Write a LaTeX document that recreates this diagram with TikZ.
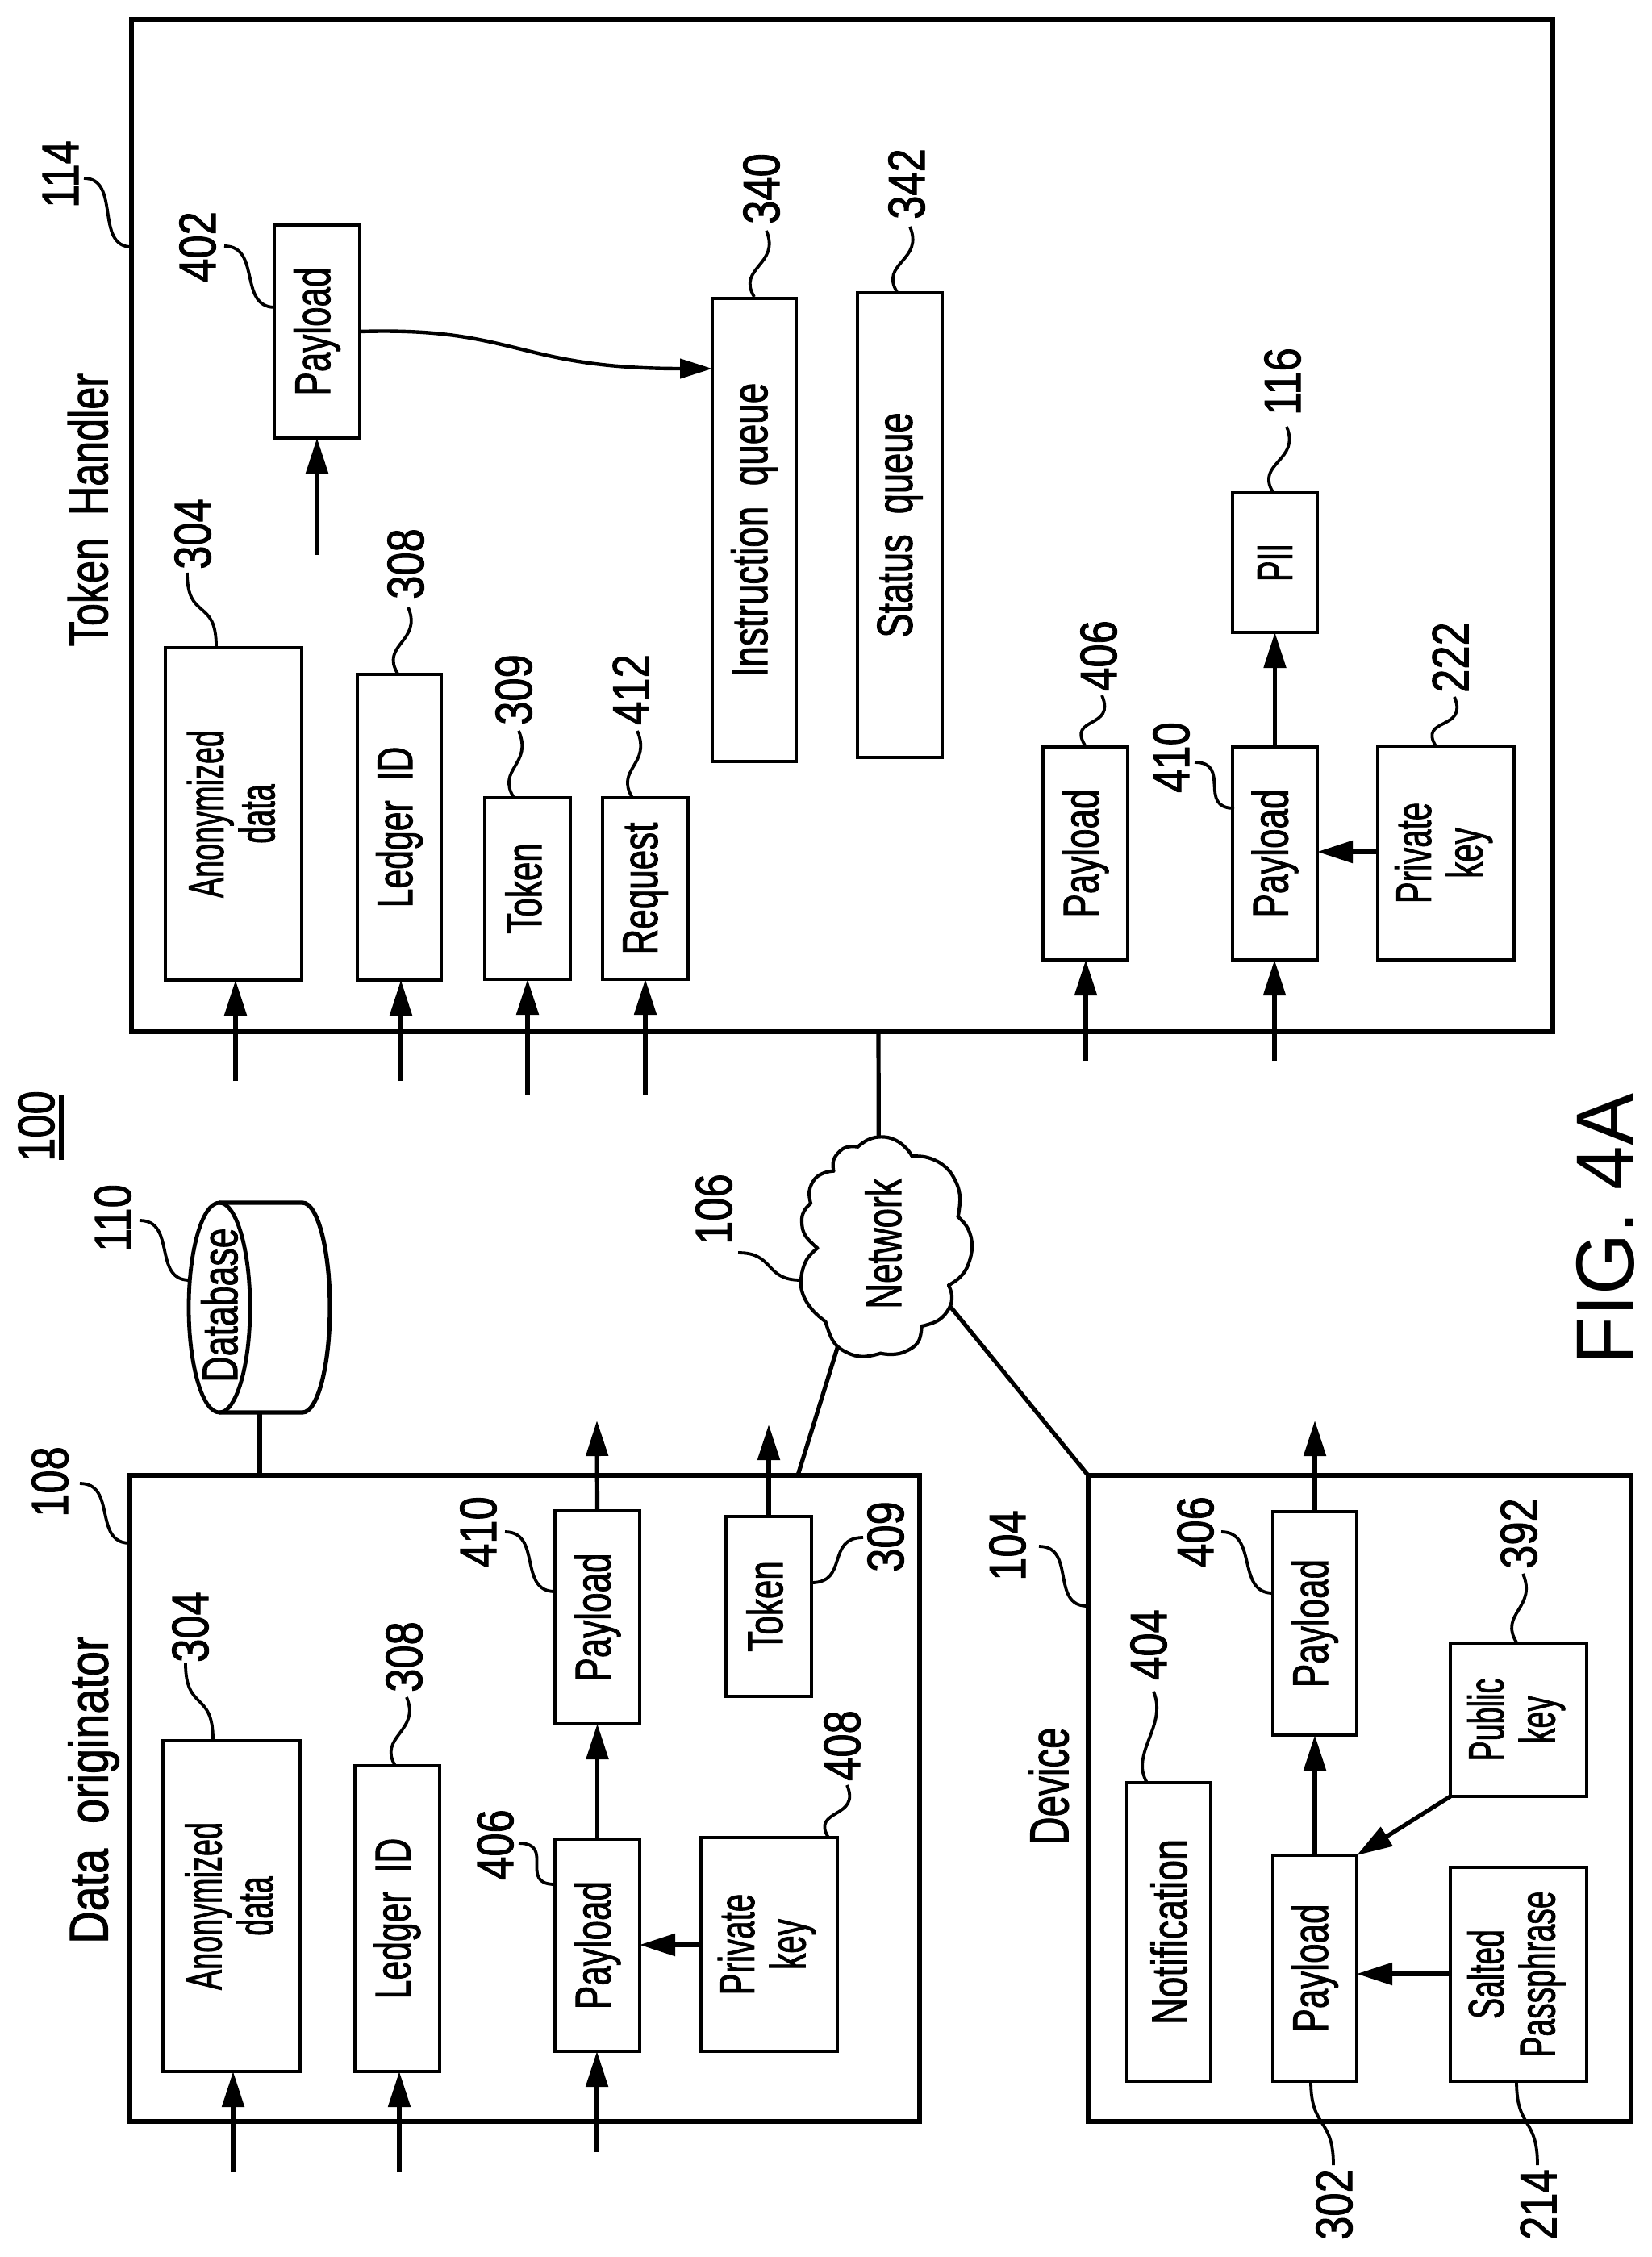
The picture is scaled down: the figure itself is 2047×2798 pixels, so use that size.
\documentclass[tikz,border=0pt]{standalone}
\usepackage{fontspec}
\usepackage{graphicx}
\setmainfont{Liberation Sans}
\newfontfamily\hv[FakeBold=1.6]{Liberation Sans}
\usetikzlibrary{arrows.meta}
\newcommand\vtxt[2]{\rotatebox{90}{\scalebox{#1}[1]{#2}}}
\newcommand\vtwo[3]{\rotatebox{90}{\scalebox{#1}[1]{\begin{tabular}{@{}c@{}}#2\\#3\end{tabular}}}}
% box: name x1 y1 x2 y2 content
\newcommand\bx[6]{\node[ibox,minimum width={(#4-#2)*0.5pt},minimum height={(#5-#3)*0.5pt}] (#1) at ({(#2+#4)/2},{-(#3+#5)/2}) {#6};}
\newcommand\obx[5]{\node[obox,minimum width={(#4-#2)*0.5pt},minimum height={(#5-#3)*0.5pt}] (#1) at ({(#2+#4)/2},{-(#3+#5)/2}) {};}
\newcommand\num[4]{\node[numtxt] (#1) at (#2,-#3) {\vtxt{.82}{#4}};}
% leads: h = S leaving and arriving horizontally; v = S leaving and arriving vertically; w = tilde wiggle
\newcommand\leadh[5]{\coordinate (#1a) at (#2,-#3);\coordinate (#1b) at (#4,-#5);\draw[lead] (#1a) .. controls +(46,0) and +(-46,0) .. (#1b);}
\newcommand\leadv[5]{\coordinate (#1a) at (#2,-#3);\coordinate (#1b) at (#4,-#5);\draw[lead] (#1a) .. controls +(0,-60) and +(0,60) .. (#1b);}
\newcommand\leadw[5]{\coordinate (#1a) at (#2,-#3);\coordinate (#1b) at (#4,-#5);\draw[lead] (#1a) .. controls +(18,-42) and +(-22,36) .. (#1b);}
\newcommand\puff[1]{\draw[cloudline] plot[smooth,tension=.7] coordinates {#1};}
\tikzset{
  ibox/.style={draw,line width=2.4pt,inner sep=0pt,outer sep=0pt,font=\hv\fontsize{31}{31}\selectfont},
  obox/.style={draw,line width=2.75pt,inner sep=0pt,outer sep=0pt},
  numtxt/.style={inner sep=0pt,font=\hv\fontsize{32}{32}\selectfont},
  titletxt/.style={inner sep=0pt,font=\hv\fontsize{34}{34}\selectfont},
  figtxt/.style={inner sep=0pt,font=\fontsize{51}{51}\selectfont},
  nettxt/.style={inner sep=0pt,font=\hv\fontsize{31}{31}\selectfont},
  arr/.style={line width=2.6pt,-{Triangle[length=22pt,width=13.5pt]}},
  wire/.style={line width=2.6pt},
  lead/.style={line width=1.9pt},
  cloudline/.style={line width=2.1pt,line cap=round},
}
\begin{document}
\begin{tikzpicture}[x=0.5pt,y=0.5pt]
\useasboundingbox (0,0) rectangle (2047,-2798);
% outer boxes
\obx{th}{163}{24}{1925}{1279}
\obx{dn}{161}{1829}{1140}{2630}
\obx{dv}{1349}{1829}{2022}{2630}
% token handler
\bx{tpay}{340}{279}{446}{543}{\vtxt{.71}{Payload}}
\bx{tanon}{205}{803}{374}{1215}{\hspace{6pt}\vtwo{.61}{Anonymized}{data}}
\bx{tled}{443}{836}{547}{1215}{\vtxt{.69}{Ledger\ \ ID}}
\bx{ttok}{601}{989}{707}{1214}{\hspace*{-5pt}\vtxt{.68}{Token}}
\bx{treq}{747}{989}{853}{1214}{\vtxt{.71}{Request}}
\bx{tins}{883}{370}{987}{944}{\vtxt{.74}{Instruction\ \ queue}}
\bx{tsta}{1063}{363}{1168}{939}{\vtxt{.73}{Status\ \ queue}}
\bx{tp406}{1293}{926}{1398}{1190}{\vtxt{.71}{Payload}}
\bx{tp410}{1528}{926}{1633}{1190}{\vtxt{.71}{Payload}}
\bx{tpii}{1528}{611}{1633}{784}{\vtxt{.62}{PII}}
\bx{tpriv}{1708}{925}{1877}{1190}{\vtwo{.65}{Private}{key}}
% data originator
\bx{danon}{202}{2158}{372}{2568}{\hspace{6pt}\vtwo{.61}{Anonymized}{data}}
\bx{dled}{440}{2189}{545}{2568}{\vtxt{.69}{Ledger\ \ ID}}
\bx{dp410}{688}{1873}{793}{2137}{\vtxt{.71}{Payload}}
\bx{dp406}{688}{2280}{793}{2543}{\vtxt{.71}{Payload}}
\bx{dtok}{900}{1880}{1006}{2103}{\hspace*{-5pt}\vtxt{.68}{Token}}
\bx{dpriv}{869}{2278}{1038}{2543}{\vtwo{.65}{Private}{key}}
% device
\bx{vnot}{1397}{2210}{1501}{2580}{\vtxt{.75}{Notification}}
\bx{vp406}{1578}{1874}{1682}{2151}{\vtxt{.71}{Payload}}
\bx{vp302}{1578}{2300}{1682}{2580}{\vtxt{.71}{Payload}}
\bx{vpub}{1798}{2037}{1967}{2227}{\vtwo{.61}{Public}{key}}
\bx{vsal}{1798}{2315}{1967}{2580}{\vtwo{.63}{Salted}{Passphrase}}
% titles
\node[titletxt] (t1) at (109,-632) {\vtxt{.74}{Token\ \ Handler}};
\node[titletxt] (t2) at (116,-2219) {\vtxt{.82}{Data\ \ originator}};
\node[titletxt] (t3) at (1300,-2214) {\vtxt{.70}{Device}};
\node[figtxt] (fig) at (1990,-1524) {\vtxt{.96}{FIG. 4A}};
% system label
\node[numtxt] (sys) at (45,-1396) {\vtxt{.82}{100}};
\coordinate (sysa) at (76,-1357);\coordinate (sysb) at (76,-1438);
\draw[wire] (sysa) -- (sysb);
% database
\node[nettxt] (db) at (272,-1618) {\vtxt{.72}{Database}};
\draw[line width=2.6pt] (272,-1491) -- (375,-1491) arc[start angle=90,end angle=-90,x radius=34,y radius=130] -- (272,-1751);
\draw[line width=2.4pt] (272,-1621) ellipse[x radius=38,y radius=130];
\coordinate (dbbot) at (322,-1751);
\draw[wire] (dbbot) -- (dbbot |- dn.north);
% cloud
\node[nettxt] (net) at (1095,-1542) {\vtxt{.71}{Network}};
\begin{scope}[shift={(960,-1380)},x=0.16667pt,y=-0.16667pt]
\puff{(310,125)(350,98)(400,88)(450,100)(490,130)(512,160)}
\puff{(512,160)(570,165)(630,195)(670,245)(690,310)(683,385)}
\puff{(683,385)(720,430)(735,495)(720,565)(690,610)(648,640)}
\puff{(648,640)(660,680)(650,725)(610,770)(548,792)}
\puff{(548,792)(535,850)(490,885)(440,897)(395,893)}
\puff{(395,893)(330,905)(270,890)(220,850)(190,775)}
\puff{(190,775)(140,730)(105,670)(100,610)(120,545)(160,502)}
\puff{(160,502)(115,455)(102,405)(110,365)(135,335)}
\puff{(135,335)(130,290)(150,245)(185,222)(220,215)}
\puff{(220,215)(220,175)(245,140)(275,125)(310,125)}
\coordinate (cloudtop) at (388,85);
\coordinate (cloudleft) at (235,870);
\coordinate (cloudright) at (655,720);
\end{scope}
\coordinate (thport) at (1089,-1279);
\coordinate (dnport) at (989,-1829);
\coordinate (dvport) at (1349,-1829);
\draw[wire] (thport) -- (cloudtop);
\draw[wire] (dnport) -- (cloudleft);
\draw[wire] (dvport) -- (cloudright);
% token handler arrows
\coordinate (i1) at (292,-1340);\draw[arr] (i1) -- (i1 |- tanon.south);
\coordinate (i2) at (497,-1340);\draw[arr] (i2) -- (i2 |- tled.south);
\coordinate (i3) at (654,-1357);\draw[arr] (i3) -- (i3 |- ttok.south);
\coordinate (i4) at (800,-1357);\draw[arr] (i4) -- (i4 |- treq.south);
\coordinate (i5) at (393,-688);\draw[arr] (i5) -- (i5 |- tpay.south);
\coordinate (i6) at (1346,-1315);\draw[arr] (i6) -- (i6 |- tp406.south);
\coordinate (i7) at (1580,-1315);\draw[arr] (i7) -- (i7 |- tp410.south);
\draw[arr] (tp410.north) -- (tpii.south);
\draw[arr] (tpriv.west |- 0,-1056) -- (tp410.east |- 0,-1056);
\coordinate (c1) at (446,-411);\coordinate (c2) at (883,-457);
\draw[line width=2.2pt,-{Triangle[length=20pt,width=12pt]}] (c1) .. controls (640,-405) and (640,-457) .. (c2);
% data originator arrows
\coordinate (j1) at (289,-2693);\draw[arr] (j1) -- (j1 |- danon.south);
\coordinate (j2) at (495,-2693);\draw[arr] (j2) -- (j2 |- dled.south);
\coordinate (j3) at (740,-2668);\draw[arr] (j3) -- (j3 |- dp406.south);
\draw[arr] (dp406.north) -- (dp410.south);
\coordinate (j4) at (740,-1761);\draw[arr] (dp410.north) -- (j4);
\coordinate (j5) at (953,-1766);\draw[arr] (dtok.north) -- (j5);
\draw[arr] (dpriv.west |- 0,-2411) -- (dp406.east |- 0,-2411);
% device arrows
\draw[arr] (vp302.north) -- (vp406.south);
\coordinate (k1) at (1630,-1761);\draw[arr] (vp406.north) -- (k1);
\draw[arr] (vsal.west |- 0,-2447) -- (vp302.east |- 0,-2447);
\draw[arr] (vpub.south west) -- (vp302.north east);
% numbers and leads
\num{n114}{75}{216}{114}\leadh{l114}{104}{221}{163}{306}
\num{n402}{245}{306}{402}\leadh{l402}{278}{305}{341}{381}
\num{n304}{239}{662}{304}\leadv{l304}{232}{710}{268}{801}
\num{n308}{503}{699}{308}\leadw{l308}{506}{753}{493}{835}
\num{n309}{637}{855}{309}\leadw{l309}{643}{906}{637}{989}
\num{n412}{782}{855}{412}\leadw{l412}{790}{906}{784}{989}
\num{n340}{944}{234}{340}\leadw{l340}{950}{286}{935}{368}
\num{n342}{1124}{228}{342}\leadw{l342}{1128}{281}{1112}{362}
\num{n406a}{1362}{813}{406}\leadw{l406a}{1366}{862}{1345}{924}
\num{n410a}{1452}{939}{410}\leadh{l410a}{1481}{945}{1530}{1002}
\num{n116}{1590}{473}{116}\leadw{l116}{1595}{529}{1578}{610}
\num{n222}{1798}{815}{222}\leadw{l222}{1803}{864}{1780}{925}
\num{n304b}{236}{2017}{304}\leadv{l304b}{230}{2062}{264}{2156}
\num{n308b}{501}{2054}{308}\leadw{l308b}{504}{2104}{490}{2189}
\num{n110}{140}{1510}{110}\leadh{l110}{173}{1513}{235}{1587}
\num{n108}{62}{1837}{108}\leadh{l108}{99}{1839}{161}{1913}
\num{n106}{885}{1499}{106}\leadh{l106}{915}{1553}{993}{1587}
\num{n410b}{593}{1899}{410}\leadh{l410b}{626}{1899}{688}{1973}
\num{n406b}{614}{2287}{406}\leadh{l406b}{643}{2285}{688}{2336}
\num{n309b}{1098}{1905}{309}\leadh{l309b}{1006}{1962}{1070}{1906}
\num{n408}{1044}{2164}{408}\leadw{l408}{1050}{2213}{1027}{2278}
\num{n104}{1249}{1916}{104}\leadh{l104}{1288}{1917}{1348}{1991}
\num{n406c}{1482}{1899}{406}\leadh{l406c}{1514}{1899}{1578}{1975}
\num{n404}{1424}{2039}{404}\leadw{l404}{1430}{2097}{1422}{2210}
\num{n392}{1883}{1901}{392}\leadw{l392}{1888}{1951}{1880}{2036}
\num{n302}{1654}{2733}{302}\leadv{l302}{1625}{2580}{1653}{2684}
\num{n214}{1907}{2733}{214}\leadv{l214}{1880}{2580}{1906}{2684}
\end{tikzpicture}
\end{document}
